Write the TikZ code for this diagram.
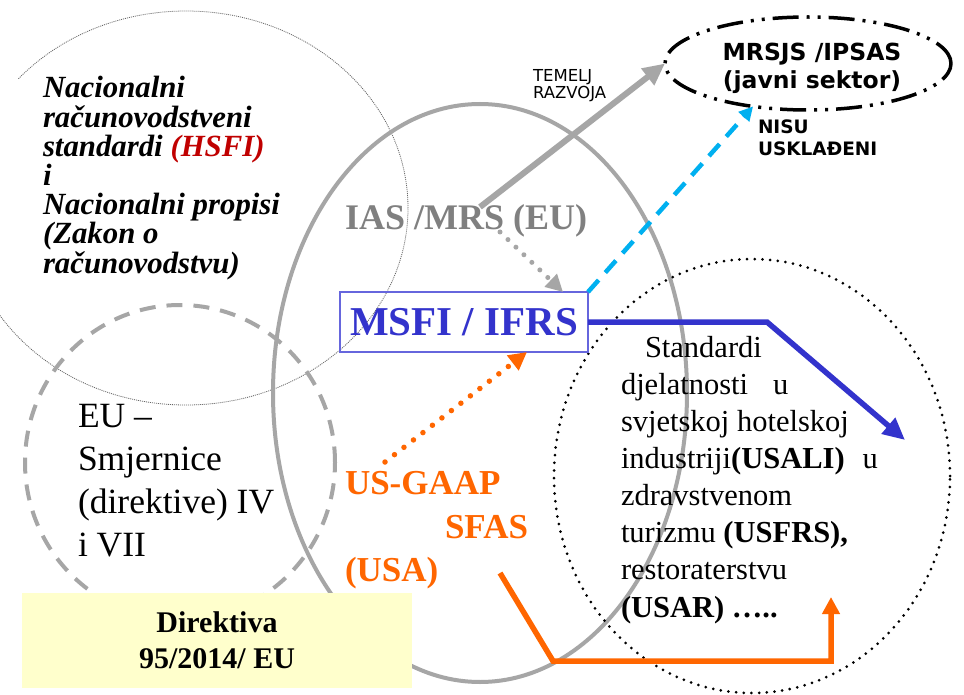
\documentclass[tikz,border=0pt]{standalone}
\usepackage{fontspec}
\setmainfont{Liberation Serif}
\newfontfamily\dvsans{DejaVu Sans}
\usetikzlibrary{arrows.meta,shapes.geometric}
\definecolor{grayA}{HTML}{A6A6A6}
\definecolor{grayT}{HTML}{808080}
\definecolor{blueM}{HTML}{3333CC}
\definecolor{blueB}{HTML}{6666DD}
\definecolor{orangeU}{HTML}{FF6600}
\definecolor{cyanN}{HTML}{00B0F0}
\definecolor{redH}{HTML}{C00000}
\definecolor{yelB}{HTML}{FFFFCC}
\begin{document}
\begin{tikzpicture}[x=1pt,y=-1pt,
  ringthin/.style={draw=black!60, line width=0.8pt, dash pattern=on 1pt off 1pt},
  ringgray/.style={draw=grayA, line width=4pt},
  ringdash/.style={draw=grayA, line width=4pt, dash pattern=on 16pt off 11pt},
  ringdot/.style={draw=black, line width=3pt, line cap=round, dash pattern=on 0pt off 7.7pt},
  txt/.style={inner sep=0pt, outer sep=0pt},
  garrow/.style={draw=grayA, line width=6pt, -{Triangle[length=22pt,width=20pt]}},
  gdot/.style={draw=grayA, line width=5pt, line cap=round, dash pattern=on 0pt off 11pt, -{Triangle[length=17pt,width=17pt]}},
  cyanarr/.style={draw=cyanN, line width=4.5pt, dash pattern=on 16pt off 10pt, -{Triangle[length=14pt,width=14pt]}},
  odot/.style={draw=orangeU, line width=5.5pt, line cap=round, dash pattern=on 0pt off 12pt, -{Triangle[length=18pt,width=18pt]}},
  barr/.style={draw=blueM, line width=5.5pt, -{Triangle[length=22pt,width=20pt]}},
  oarr/.style={draw=orangeU, line width=5.5pt, -{Triangle[length=17pt,width=17pt]}}
]
\useasboundingbox (0,0) rectangle (964,695);
\fill[white] (0,0) rectangle (964,695);

% rings
\draw[ringthin] (186,208) ellipse [x radius=222pt, y radius=197pt];
\fill[white] (0,79) rectangle (286,292);
\draw[ringgray] (480,393) ellipse [x radius=207pt, y radius=289pt];
\draw[ringdash] (180,462.5) ellipse [x radius=155pt, y radius=157.5pt];
\draw[ringdot] (752,476) ellipse [x radius=198pt, y radius=217pt];

% public sector ellipse
\node[ellipse, draw=black, line width=3.5pt, dash pattern=on 26pt off 8pt on 3pt off 8pt on 3pt off 8pt,
      minimum width=286pt, minimum height=93pt, inner sep=0pt, outer sep=0pt] (mrsjs) at (808,63.5) {};
\node[txt, anchor=north, align=center, font=\dvsans\bfseries\fontsize{23.5}{28}\selectfont] (mrsjsT) at (812,42.6)
  {MRSJS /IPSAS\\(javni sektor)};

% directive box
\node[fill=yelB, minimum width=390pt, minimum height=95pt, inner sep=0pt, align=center,
      font=\fontsize{30}{36}\selectfont\bfseries] (dir) at (217,640.5) {Direktiva\\95/2014/ EU};

% texts
\node[txt, anchor=north west, align=left, font=\fontsize{30.8}{29.2}\selectfont\bfseries\itshape] (nac) at (43,76.5)
  {Nacionalni\\računovodstveni\\standardi \textcolor{redH}{(HSFI)}\\i\\Nacionalni propisi\\(Zakon o\\računovodstvu)};
\node[txt, anchor=north west, align=left, font=\fontsize{35.5}{43}\selectfont] (eu) at (78,404.5)
  {EU –\\Smjernice\\(direktive) IV\\i VII};
\node[txt, anchor=base west, text=grayT, font=\fontsize{36}{40}\selectfont\bfseries] (ias) at (345,230) {IAS /MRS (EU)};
\node[draw=blueB, line width=1.3pt, minimum width=248pt, minimum height=60pt, inner sep=0pt, outer sep=0pt,
      text=blueM, font=\fontsize{41}{46}\selectfont\bfseries] (msfi) at (464,322) {MSFI / IFRS};
\node[txt, anchor=north west, align=left, text=orangeU, font=\fontsize{35}{43.5}\selectfont\bfseries] (us) at (345,471.8)
  {US-GAAP\\\hspace*{100pt}SFAS\\(USA)};
\node[txt, anchor=north west, align=left, font=\fontsize{30.5}{37.1}\selectfont] (usali) at (621,336.2)
  {\hspace*{24pt}Standardi\\djelatnosti\hspace*{25pt}u\\svjetskoj hotelskoj\\industriji\textbf{(USALI)}\hspace*{18pt}u\\zdravstvenom\\turizmu \textbf{(USFRS),}\\restoraterstvu\\\textbf{(USAR) …..}};
\node[txt, anchor=north west, align=left, font=\dvsans\fontsize{16.5}{17}\selectfont] (tem) at (533,69)
  {TEMELJ\\RAZVOJA};
\node[txt, anchor=north west, align=left, font=\dvsans\bfseries\fontsize{18.5}{22}\selectfont] (nisu) at (758,119.5)
  {NISU\\USKLAĐENI};

% connectors
\coordinate (gs) at (480,207);
\draw[garrow] (gs) -- (mrsjs.west);
\coordinate (gd) at (500,232);
\draw[gdot] (gd) -- ([xshift=99pt]msfi.north);
\draw[cyanarr] (msfi.north east) -- (mrsjs.218.7);
\coordinate (od) at (385,462);
\draw[odot] (od) -- ([xshift=63pt]msfi.south);
\coordinate (bb) at (767,322);
\coordinate (bt) at (905,440);
\draw[barr] (msfi.east) -- (bb) -- (bt);
\coordinate (o1) at (500,573);
\coordinate (o2) at (553,661);
\coordinate (o3) at (831,661);
\coordinate (o4) at (831,597);
\draw[oarr] (o1) -- (o2) -- (o3) -- (o4);
\end{tikzpicture}
\end{document}
